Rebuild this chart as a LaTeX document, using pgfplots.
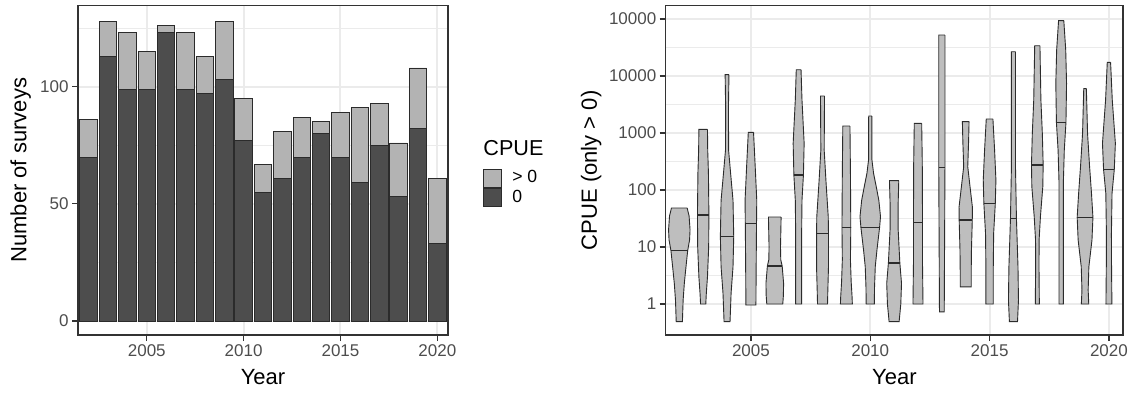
\documentclass[border=0pt]{standalone}
\usepackage{fontspec}
\setmainfont{Liberation Sans}
\usepackage{pgfplots}
\pgfplotsset{compat=1.18}
\definecolor{gridc}{HTML}{EBEBEB}
\definecolor{framec}{HTML}{333333}
\definecolor{tickc}{HTML}{4D4D4D}
\definecolor{darkbar}{HTML}{4D4D4D}
\definecolor{lightbar}{HTML}{B3B3B3}
\definecolor{violinfill}{HTML}{BEBEBE}
\definecolor{outl}{HTML}{2B2B2B}
\pgfplotsset{
  ggbase/.style={
    scale only axis,
    anchor=south west,
    axis line style={framec, line width=0.7pt},
    tick align=outside,
    tick pos=left,
    major tick length=3pt,
    minor tick length=0pt,
    tick style={framec, line width=0.6pt},
    grid=both,
    major grid style={gridc, line width=1pt},
    minor grid style={gridc, line width=0.5pt},
    /pgf/number format/assume math mode=true,
    /pgf/number format/1000 sep={},
    tick label style={font=\fontsize{8.5}{10}\selectfont, text=tickc},
    xticklabel style={inner sep=1.5pt},
    yticklabel style={inner sep=1.5pt},
    label style={font=\fontsize{11}{13}\selectfont},
    xlabel style={at={(axis description cs:0.5,-0.128)}, anchor=center},
    xtick={2005,2010,2015,2020},
  },
  violin/.style={fill=violinfill, draw=outl, line width=0.45pt},
  med/.style={draw=outl, line width=0.6pt},
}
\begin{document}
\begin{tikzpicture}
\useasboundingbox (0,0) rectangle (567pt,-196pt);
% ---------------- left panel: stacked bars ----------------
\begin{axis}[ggbase,
  at={(39pt,-167.5pt)},
  width=185pt, height=164.75pt,
  xmin=2001.45, xmax=2020.55, ymin=-5.97, ymax=134.66,
  ybar stacked, bar width=0.9,
  ytick={0,50,100}, minor ytick={25,75,125},
  xlabel={Year}, ylabel={Number of surveys},
  ylabel style={at={(axis description cs:-0.155,0.5)}, anchor=center},
  reverse legend,
  legend style={at={(axis description cs:1.0946,0.506)}, anchor=north west,
    draw=none, fill=none, inner sep=0pt, row sep=0pt, column sep=5pt,
    font=\fontsize{8.8}{10}\selectfont,
    nodes={inner sep=0pt, anchor=west}},
]
\addplot[fill=darkbar, draw=outl, line width=0.45pt,
  legend image code/.code={\draw[fill=darkbar, draw=outl, line width=0.45pt] (0pt,-4.6pt) rectangle (9pt,4.6pt);}]
  coordinates {(2002,70) (2003,113) (2004,99) (2005,99) (2006,123) (2007,99) (2008,97) (2009,103) (2010,77) (2011,55) (2012,61) (2013,70) (2014,80) (2015,70) (2016,59) (2017,75) (2018,53) (2019,82) (2020,33)};
\addlegendentry{0}
\addplot[fill=lightbar, draw=outl, line width=0.45pt,
  legend image code/.code={\draw[fill=lightbar, draw=outl, line width=0.45pt] (0pt,-4.6pt) rectangle (9pt,4.6pt);}]
  coordinates {(2002,16) (2003,15) (2004,24) (2005,16) (2006,3) (2007,24) (2008,16) (2009,25) (2010,18) (2011,12) (2012,20) (2013,17) (2014,5) (2015,19) (2016,32) (2017,18) (2018,23) (2019,26) (2020,28)};
\addlegendentry{> 0}
\end{axis}
\node[anchor=base west, inner sep=0pt, font=\fontsize{10.8}{12}\selectfont] at (241.5pt,-77.5pt) {CPUE};
% ---------------- right panel: violins ----------------
\begin{axis}[ggbase,
  at={(332.85pt,-167.5pt)},
  width=228.65pt, height=164.75pt,
  xmin=2001.43, xmax=2020.59,
  ymode=log, ymin=0.2858, ymax=172600,
  ytick={1,10,100,1000,10000,100000},
  yticklabels={1,10,100,1000,10000,10000},
  minor ytick={3.162,31.62,316.2,3162,31623},
  xlabel={Year}, ylabel={CPUE (only > 0)},
  ylabel style={at={(axis description cs:-0.163,0.5)}, anchor=center},
]
% 2002
\addplot[violin] coordinates {(2002.33,48.3) (2002.41,35) (2002.45,20) (2002.43,13.3) (2002.35,8.6) (2002.28,4.5) (2002.21,2.3) (2002.16,1.17) (2002.13,0.49) (2001.87,0.49) (2001.84,1.17) (2001.79,2.3) (2001.72,4.5) (2001.65,8.6) (2001.57,13.3) (2001.55,20) (2001.59,35) (2001.67,48.3) (2002.33,48.3)};
\addplot[med] coordinates {(2001.65,8.6) (2002.35,8.6)};
% 2003
\addplot[violin] coordinates {(2003.18,1159) (2003.19,500) (2003.22,200) (2003.24,36.4) (2003.23,10) (2003.18,3) (2003.13,1.5) (2003.11,1) (2002.89,1) (2002.87,1.5) (2002.82,3) (2002.77,10) (2002.76,36.4) (2002.78,200) (2002.81,500) (2002.82,1159) (2003.18,1159)};
\addplot[med] coordinates {(2002.76,36.4) (2003.24,36.4)};
% 2004
\addplot[violin] coordinates {(2004.08,10550) (2004.06,3000) (2004.065,500) (2004.15,195) (2004.25,66) (2004.28,15.2) (2004.25,4.5) (2004.17,1.55) (2004.125,0.49) (2003.875,0.49) (2003.83,1.55) (2003.75,4.5) (2003.72,15.2) (2003.75,66) (2003.85,195) (2003.935,500) (2003.94,3000) (2003.92,10550) (2004.08,10550)};
\addplot[med] coordinates {(2003.72,15.2) (2004.28,15.2)};
% 2005
\addplot[violin] coordinates {(2005.11,1028) (2005.18,257) (2005.245,66) (2005.235,26) (2005.22,4.5) (2005.21,0.96) (2004.79,0.96) (2004.78,4.5) (2004.765,26) (2004.755,66) (2004.82,257) (2004.89,1028) (2005.11,1028)};
\addplot[med] coordinates {(2004.765,26) (2005.235,26)};
% 2006
\addplot[violin] coordinates {(2006.265,33.6) (2006.255,20) (2006.24,10) (2006.25,6) (2006.31,4.64) (2006.37,2.3) (2006.36,1.4) (2006.335,1) (2005.665,1) (2005.64,1.4) (2005.63,2.3) (2005.69,4.64) (2005.75,6) (2005.76,10) (2005.745,20) (2005.735,33.6) (2006.265,33.6)};
\addplot[med] coordinates {(2005.69,4.64) (2006.31,4.64)};
% 2007
\addplot[violin] coordinates {(2007.1,12900) (2007.14,3800) (2007.23,660) (2007.2,183) (2007.14,66) (2007.125,17) (2007.125,4.5) (2007.125,1) (2006.875,1) (2006.875,4.5) (2006.875,17) (2006.86,66) (2006.8,183) (2006.77,660) (2006.86,3800) (2006.9,12900) (2007.1,12900)};
\addplot[med] coordinates {(2006.8,183) (2007.2,183)};
% 2008
\addplot[violin] coordinates {(2008.085,4456) (2008.07,500) (2008.15,132) (2008.24,34) (2008.25,17.4) (2008.25,4.5) (2008.22,1.55) (2008.21,1) (2007.79,1) (2007.78,1.55) (2007.75,4.5) (2007.75,17.4) (2007.76,34) (2007.85,132) (2007.93,500) (2007.915,4456) (2008.085,4456)};
\addplot[med] coordinates {(2007.75,17.4) (2008.25,17.4)};
% 2009
\addplot[violin] coordinates {(2009.15,1327) (2009.17,200) (2009.185,21.8) (2009.17,6) (2009.2,2.5) (2009.24,1.3) (2009.25,1) (2008.75,1) (2008.76,1.3) (2008.8,2.5) (2008.83,6) (2008.815,21.8) (2008.83,200) (2008.85,1327) (2009.15,1327)};
\addplot[med] coordinates {(2008.815,21.8) (2009.185,21.8)};
% 2010
\addplot[violin] coordinates {(2010.065,1986) (2010.07,340) (2010.14,195) (2010.25,115) (2010.36,66) (2010.43,34) (2010.39,21.8) (2010.28,8.8) (2010.21,4.5) (2010.18,2) (2010.17,1) (2009.83,1) (2009.82,2) (2009.79,4.5) (2009.72,8.8) (2009.61,21.8) (2009.57,34) (2009.64,66) (2009.75,115) (2009.86,195) (2009.93,340) (2009.935,1986) (2010.065,1986)};
\addplot[med] coordinates {(2009.61,21.8) (2010.39,21.8)};
% 2011
\addplot[violin] coordinates {(2011.195,146) (2011.17,60) (2011.17,20) (2011.24,5.24) (2011.31,2.3) (2011.28,1) (2011.21,0.49) (2010.79,0.49) (2010.72,1) (2010.69,2.3) (2010.76,5.24) (2010.83,20) (2010.83,60) (2010.805,146) (2011.195,146)};
\addplot[med] coordinates {(2010.76,5.24) (2011.24,5.24)};
% 2012
\addplot[violin] coordinates {(2012.155,1479) (2012.18,300) (2012.19,26.7) (2012.19,5) (2012.21,1) (2011.79,1) (2011.81,5) (2011.81,26.7) (2011.82,300) (2011.845,1479) (2012.155,1479)};
\addplot[med] coordinates {(2011.81,26.7) (2012.19,26.7)};
% 2013
\addplot[violin] coordinates {(2013.13,52400) (2013.13,247) (2013.1,0.73) (2012.9,0.73) (2012.87,247) (2012.87,52400) (2013.13,52400)};
\addplot[med] coordinates {(2012.87,247) (2013.13,247)};
% 2014
\addplot[violin] coordinates {(2014.14,1581) (2014.12,700) (2014.085,257) (2014.18,115) (2014.28,50) (2014.275,29.8) (2014.24,8.8) (2014.23,3.5) (2014.23,2) (2013.77,2) (2013.77,3.5) (2013.76,8.8) (2013.725,29.8) (2013.72,50) (2013.82,115) (2013.915,257) (2013.88,700) (2013.86,1581) (2014.14,1581)};
\addplot[med] coordinates {(2013.725,29.8) (2014.275,29.8)};
% 2015
\addplot[violin] coordinates {(2015.14,1761) (2015.21,500) (2015.265,150) (2015.24,58.3) (2015.17,17.4) (2015.155,4.5) (2015.155,1) (2014.845,1) (2014.845,4.5) (2014.83,17.4) (2014.76,58.3) (2014.735,150) (2014.79,500) (2014.86,1761) (2015.14,1761)};
\addplot[med] coordinates {(2014.76,58.3) (2015.24,58.3)};
% 2016
\addplot[violin] coordinates {(2016.085,26700) (2016.085,260) (2016.125,31.8) (2016.19,4.5) (2016.21,1.17) (2016.17,0.49) (2015.83,0.49) (2015.79,1.17) (2015.81,4.5) (2015.875,31.8) (2015.915,260) (2015.915,26700) (2016.085,26700)};
\addplot[med] coordinates {(2015.875,31.8) (2016.125,31.8)};
% 2017
\addplot[violin] coordinates {(2017.11,34000) (2017.15,3800) (2017.21,980) (2017.245,275) (2017.23,115) (2017.13,34) (2017.075,13.3) (2017.07,4.5) (2017.085,1) (2016.915,1) (2016.93,4.5) (2016.925,13.3) (2016.87,34) (2016.77,115) (2016.755,275) (2016.79,980) (2016.85,3800) (2016.89,34000) (2017.11,34000)};
\addplot[med] coordinates {(2016.755,275) (2017.245,275)};
% 2018
\addplot[violin] coordinates {(2018.11,93500) (2018.19,28600) (2018.225,7400) (2018.2,1539) (2018.13,500) (2018.09,132) (2018.09,1) (2017.91,1) (2017.91,132) (2017.87,500) (2017.8,1539) (2017.775,7400) (2017.81,28600) (2017.89,93500) (2018.11,93500)};
\addplot[med] coordinates {(2017.8,1539) (2018.2,1539)};
% 2019
\addplot[violin] coordinates {(2019.055,5995) (2019.105,980) (2019.19,257) (2019.27,87) (2019.33,33.1) (2019.29,13.3) (2019.16,4.5) (2019.13,1.76) (2019.155,1) (2018.845,1) (2018.87,1.76) (2018.84,4.5) (2018.71,13.3) (2018.67,33.1) (2018.73,87) (2018.81,257) (2018.895,980) (2018.945,5995) (2019.055,5995)};
\addplot[med] coordinates {(2018.67,33.1) (2019.33,33.1)};
% 2020
\addplot[violin] coordinates {(2020.07,17370) (2020.14,3800) (2020.27,660) (2020.225,230.6) (2020.13,87) (2020.105,17) (2020.11,4.5) (2020.125,1) (2019.875,1) (2019.89,4.5) (2019.895,17) (2019.87,87) (2019.775,230.6) (2019.73,660) (2019.86,3800) (2019.93,17370) (2020.07,17370)};
\addplot[med] coordinates {(2019.775,230.6) (2020.225,230.6)};
\end{axis}
\end{tikzpicture}
\end{document}
